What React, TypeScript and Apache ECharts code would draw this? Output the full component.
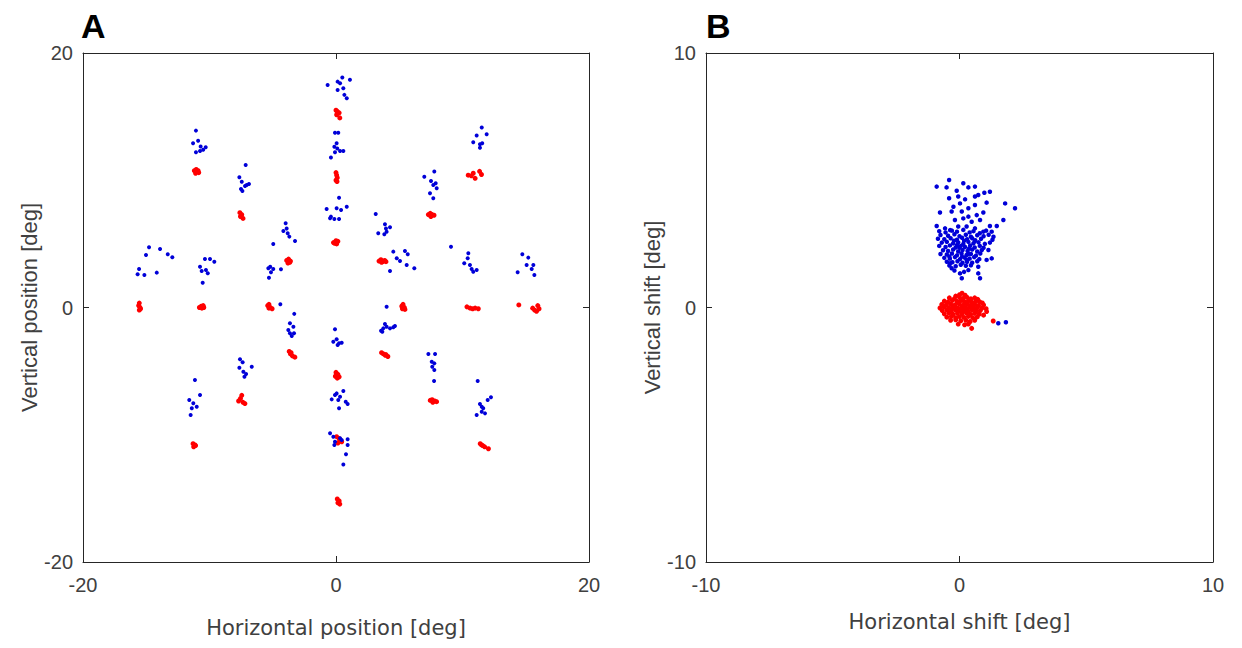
import React, { useEffect, useRef } from "react";
import * as echarts from "echarts";

// ---- Panel A: target positions (red) and landing positions (blue), in deg ----
const aRed: number[][] = [
  [-15.55, 0.35], [-15.6, 0.15], [-15.5, 0.0], [-15.55, -0.2], [-15.45, -0.1],
  [-10.8, 0.0], [-10.65, 0.1], [-10.5, 0.15], [-10.6, -0.05], [-10.45, 0.0],
  [-5.4, 0.15], [-5.3, 0.25], [-5.2, 0.0], [-5.05, -0.1], [-5.3, -0.05],
  [-3.9, 3.7], [-3.75, 3.8], [-3.6, 3.65], [-3.8, 3.5], [-3.65, 3.55],
  [0.0, 15.5], [0.1, 15.4], [0.25, 15.3], [0.05, 15.15], [0.3, 14.9],
  [0.0, 10.6], [0.05, 10.4], [0.1, 10.2], [0.0, 10.0], [0.08, 9.9],
  [-0.2, 5.1], [0.0, 5.25], [0.15, 5.2], [0.05, 5.0], [-0.1, 5.05],
  [-11.2, 10.75], [-11.05, 10.85], [-10.9, 10.75], [-11.1, 10.55], [-10.85, 10.6],
  [-7.6, 7.45], [-7.45, 7.3], [-7.55, 7.15], [-7.35, 7.0], [-7.5, 7.2],
  [3.4, 3.65], [3.55, 3.75], [3.7, 3.6], [3.85, 3.7], [3.95, 3.6], [3.6, 3.55],
  [5.2, 0.1], [5.3, 0.25], [5.4, 0.0], [5.25, -0.1], [5.45, -0.15],
  [7.3, 7.3], [7.45, 7.4], [7.6, 7.3], [7.75, 7.25], [7.5, 7.15],
  [10.45, 10.4], [10.7, 10.35], [10.85, 10.55], [11.35, 10.7], [11.5, 10.45], [11.0, 10.15],
  [10.35, 0.05], [10.6, -0.05], [10.8, -0.1], [11.0, -0.05], [11.25, -0.1],
  [14.45, 0.2], [15.55, -0.05], [15.95, 0.15], [15.85, -0.3], [15.7, -0.2], [16.05, -0.1],
  [-3.7, -3.45], [-3.6, -3.65], [-3.45, -3.8], [-3.25, -3.9], [-3.55, -3.55],
  [-7.45, -6.9], [-7.55, -7.15], [-7.7, -7.35], [-7.35, -7.45], [-7.2, -7.55],
  [-11.3, -10.7], [-11.15, -10.8], [-11.25, -10.95], [-11.1, -10.85],
  [3.6, -3.55], [3.75, -3.65], [3.9, -3.75], [4.1, -3.85], [3.95, -3.7],
  [0.0, -5.1], [0.15, -5.25], [0.25, -5.45], [-0.05, -5.4], [0.1, -5.55],
  [7.45, -7.3], [7.6, -7.25], [7.8, -7.35], [7.95, -7.4], [7.65, -7.45],
  [11.4, -10.7], [11.6, -10.85], [11.75, -10.95], [12.05, -11.1], [11.5, -10.8],
  [0.05, -10.15], [0.3, -10.4], [0.15, -10.65], [0.45, -10.55], [0.25, -10.3],
  [0.1, -15.05], [0.25, -15.2], [0.3, -15.45], [0.15, -15.35],
];

const aBlue: number[][] = [
  [-11.07, 13.9], [-11.3, 12.9], [-10.9, 13.1], [-10.7, 12.65], [-10.3, 12.6], [-10.5, 12.4], [-11.07, 12.2], [-10.75, 12.3],
  [-7.14, 11.2], [-7.64, 10.24], [-7.45, 9.89], [-6.88, 9.71], [-7.19, 9.55], [-7.51, 9.32], [-7.4, 9.16], [-7.06, 9.63],
  [-3.98, 6.62], [-4.16, 6.01], [-3.82, 5.83], [-3.69, 5.57], [-3.24, 5.23], [-4.96, 4.99], [-3.9, 6.2],
  [-5.35, 3.08], [-4.96, 3.03], [-5.14, 2.77], [-4.35, 3.0], [-5.3, 2.34], [-5.2, 3.2],
  [-4.4, 0.25], [-3.3, -0.5],
  [-10.36, 3.81], [-9.96, 3.81], [-9.62, 3.6], [-10.75, 3.21], [-10.28, 2.95], [-10.62, 2.87], [-10.14, 2.69], [-10.54, 1.95],
  [-14.78, 4.73], [-13.91, 4.6], [-13.3, 4.18], [-12.94, 3.95], [-15.02, 4.13], [-15.57, 3.03], [-15.68, 2.61], [-15.15, 2.56], [-14.17, 2.74],
  [-0.66, 17.49], [0.13, 17.75], [0.5, 18.07], [1.1, 17.89], [0.32, 17.63], [0.58, 17.23], [0.13, 17.1], [0.66, 16.71], [0.85, 16.45],
  [-0.08, 13.74], [0.18, 13.74], [0.05, 12.91], [-0.13, 12.64], [0.32, 12.3], [0.58, 12.3], [-0.08, 12.2], [-0.4, 11.78], [0.1, 12.5],
  [0.24, 8.63], [-0.74, 7.74], [0.05, 7.8], [0.4, 7.67], [0.85, 7.92], [-0.4, 7.14], [-0.13, 6.96], [0.24, 6.96], [-0.47, 7.01],
  [3.14, 7.35], [3.87, 6.54], [4.27, 6.31], [3.34, 5.83], [3.82, 5.75], [4.0, 5.96], [3.95, 6.2],
  [4.53, 4.39], [5.45, 4.44], [5.67, 4.18], [4.8, 3.87], [5.06, 3.66], [5.59, 3.34], [6.19, 3.08], [4.27, 2.87],
  [4.0, 0.06],
  [7.77, 10.68], [6.98, 10.28], [7.51, 9.94], [7.69, 9.63], [7.96, 9.37], [7.43, 8.98], [7.69, 8.58], [7.88, 9.76],
  [11.52, 14.14], [11.12, 13.51], [11.91, 13.62], [10.85, 12.99], [11.38, 12.83], [11.56, 12.91], [11.38, 12.56],
  [9.09, 4.78], [10.46, 4.26], [10.41, 3.87], [10.14, 3.47], [10.59, 3.34], [10.72, 3.03], [11.12, 2.95], [10.85, 2.81],
  [14.73, 4.18], [15.2, 3.92], [15.07, 3.34], [15.6, 3.34], [15.47, 3.03], [15.68, 2.56], [14.36, 2.77],
  [-3.64, -1.24], [-3.37, -1.51], [-3.77, -1.77], [-3.64, -2.03], [-3.5, -2.24], [-3.32, -2.03],
  [-7.59, -4.07], [-7.38, -4.31], [-7.64, -4.73], [-6.66, -4.65], [-7.32, -5.05], [-7.11, -5.23], [-7.24, -5.44],
  [-11.15, -5.7], [-10.75, -6.88], [-11.6, -7.27], [-11.28, -7.53], [-11.01, -7.8], [-11.4, -7.92], [-11.49, -8.45],
  [-0.08, -1.71], [-0.21, -2.69], [0.05, -2.5], [0.24, -2.81], [0.45, -2.77], [0.13, -2.95],
  [3.87, -1.3], [3.56, -1.82], [3.74, -1.64], [4.0, -1.51], [4.27, -1.64], [4.66, -1.45], [4.53, -1.56], [3.66, -1.9],
  [-0.08, -6.88], [0.32, -7.01], [0.58, -6.56], [-0.34, -7.22], [0.18, -7.27], [0.77, -7.41], [0.92, -7.59], [0.24, -7.92], [0.05, -6.75],
  [7.3, -3.66], [7.83, -3.66], [7.57, -4.26], [7.77, -4.39], [7.61, -4.65], [7.77, -4.91], [7.75, -5.78],
  [11.2, -5.78], [12.25, -7.06], [11.99, -7.27], [11.38, -7.59], [11.64, -7.92], [11.52, -8.19], [11.12, -8.45], [11.78, -8.32], [11.52, -7.8],
  [-0.47, -9.89], [-0.21, -10.16], [-0.08, -10.55], [-0.13, -10.81], [0.32, -10.28], [0.45, -10.42], [0.92, -10.36], [0.92, -10.81], [0.79, -11.54], [0.58, -12.33],
];

// ---- Panel B: shifts (blue) and reference shifts (red), in deg ----
const bBlue: number[][] = [
  [-0.41, 5.01], [-0.9, 4.75], [-0.51, 4.72], [-0.11, 4.59], [0.15, 4.88], [0.35, 4.72], [0.61, 4.75], [0.98, 4.51], [1.2, 4.55],
  [-0.41, 4.29], [-0.05, 4.36], [0.22, 4.25], [0.61, 4.36], [0.74, 4.42], [1.07, 4.12], [1.8, 4.09], [2.19, 3.9],
  [-0.77, 3.73], [-0.24, 3.96], [0.02, 4.09], [0.35, 3.9], [0.61, 4.03], [-0.31, 3.77], [0.09, 3.77], [0.35, 3.57],
  [0.68, 3.63], [0.94, 3.73], [1.73, 3.44], [-0.9, 3.2], [-0.18, 3.44], [0.15, 3.5], [0.48, 3.37], [0.81, 3.44],
  [1.2, 3.2], [1.47, 3.2], [-0.57, 3.11], [-0.37, 3.04], [-0.05, 3.18], [0.28, 3.18], [0.61, 3.11], [0.94, 2.98],
  [1.27, 2.98], [1.34, 2.78],
  [-0.8, 3.0], [-0.55, 2.95], [-0.3, 3.02], [-0.1, 2.98], [0.15, 3.05], [0.4, 2.95], [0.55, 3.0], [0.8, 2.92], [1.05, 3.02],
  [-0.75, 2.85], [-0.45, 2.82], [-0.2, 2.88], [0.0, 2.8], [0.25, 2.86], [0.45, 2.78], [0.7, 2.84], [0.95, 2.8], [1.15, 2.86],
  [-0.85, 2.7], [-0.6, 2.68], [-0.35, 2.72], [-0.1, 2.66], [0.1, 2.74], [0.3, 2.68], [0.5, 2.72], [0.62, 2.64], [0.85, 2.7], [1.3, 2.66],
  [-0.7, 2.55], [-0.5, 2.58], [-0.25, 2.52], [-0.05, 2.56], [0.15, 2.5], [0.35, 2.58], [0.55, 2.52], [0.75, 2.56], [1.0, 2.5], [1.2, 2.55],
  [-0.8, 2.42], [-0.55, 2.38], [-0.38, 2.44], [-0.15, 2.36], [0.05, 2.42], [0.22, 2.38], [0.42, 2.44], [0.6, 2.36], [0.8, 2.42], [0.95, 2.35],
  [-0.65, 2.25], [-0.45, 2.22], [-0.25, 2.28], [-0.05, 2.2], [0.12, 2.26], [0.32, 2.22], [0.5, 2.28], [0.7, 2.2], [0.88, 2.26], [1.14, 2.26],
  [-0.75, 2.1], [-0.5, 2.08], [-0.3, 2.12], [-0.1, 2.05], [0.08, 2.12], [0.28, 2.06], [0.45, 2.1], [0.65, 2.04], [0.82, 2.12],
  [-0.6, 1.95], [-0.38, 1.92], [-0.18, 1.98], [0.02, 1.9], [0.2, 1.96], [0.4, 1.92], [0.58, 1.98], [0.78, 1.9], [1.27, 1.93], [1.07, 1.87],
  [-0.5, 1.8], [-0.28, 1.78], [-0.08, 1.82], [0.12, 1.76], [0.3, 1.8], [0.5, 1.76], [0.7, 1.82],
  [-0.4, 1.65], [-0.15, 1.62], [0.05, 1.68], [0.25, 1.64], [0.45, 1.66], [0.74, 1.6],
  [-0.31, 1.54], [0.02, 1.34], [0.09, 1.15], [0.74, 1.34], [0.81, 1.15], [0.35, 1.47], [-0.37, 1.74], [-0.2, 1.45], [0.18, 1.4],
  [0.0, 2.35], [0.18, 2.62], [0.38, 2.32], [-0.22, 2.62], [0.28, 1.88], [0.1, 2.0], [-0.4, 2.0], [0.6, 2.6], [0.35, 2.1], [-0.1, 2.45],
  [1.53, -0.62], [1.83, -0.58],
];

const bRed: number[][] = [
  [0.0, 0.5], [0.1, 0.56], [0.22, 0.48], [-0.15, 0.45],
  [-0.4, 0.38], [-0.2, 0.35], [0.0, 0.4], [0.15, 0.36], [0.3, 0.4], [0.45, 0.34], [0.6, 0.38], [0.72, 0.32],
  [-0.6, 0.25], [-0.45, 0.22], [-0.28, 0.28], [-0.1, 0.24], [0.05, 0.27], [0.2, 0.22], [0.35, 0.26], [0.5, 0.2], [0.65, 0.25], [0.8, 0.22], [0.9, 0.18],
  [-0.7, 0.12], [-0.52, 0.1], [-0.35, 0.14], [-0.18, 0.1], [0.0, 0.13], [0.15, 0.08], [0.3, 0.14], [0.45, 0.1], [0.6, 0.12], [0.75, 0.08], [0.95, 0.1],
  [-0.77, -0.02], [-0.6, 0.02], [-0.42, -0.01], [-0.25, 0.03], [-0.08, -0.02], [0.1, 0.01], [0.25, -0.03], [0.4, 0.02], [0.55, -0.02], [0.7, 0.0], [0.88, -0.03], [1.05, -0.05],
  [-0.68, -0.12], [-0.5, -0.1], [-0.32, -0.14], [-0.15, -0.1], [0.02, -0.13], [0.18, -0.1], [0.35, -0.14], [0.5, -0.1], [0.66, -0.14], [0.82, -0.12], [1.07, -0.16],
  [-0.6, -0.25], [-0.42, -0.22], [-0.25, -0.27], [-0.08, -0.23], [0.1, -0.26], [0.28, -0.22], [0.44, -0.27], [0.6, -0.23], [0.78, -0.26], [0.95, -0.3],
  [-0.5, -0.38], [-0.32, -0.35], [-0.15, -0.4], [0.0, -0.36], [0.18, -0.39], [0.35, -0.35], [0.52, -0.4], [0.7, -0.37],
  [-0.35, -0.5], [-0.15, -0.48], [0.05, -0.52], [0.25, -0.5], [0.42, -0.55], [0.6, -0.5], [1.33, -0.53],
  [-0.05, -0.65], [0.2, -0.68], [0.48, -0.82], [0.35, -0.65],
  [0.05, -0.05], [-0.2, 0.05], [0.2, 0.15], [0.3, -0.05], [-0.05, 0.2], [0.12, -0.2], [-0.3, -0.05], [0.4, 0.3],
];

const panelLabels = ["A", "B"];
const axisNamesX = ["Horizontal position [deg]", "Horizontal shift [deg]"];
const axisNamesY = ["Vertical position [deg]", "Vertical shift [deg]"];
const axisLimits = [20, 10];

const FONT = "'Liberation Sans', Arial, Helvetica, sans-serif";
const FONT_WIDE = "'DejaVu Sans', 'Liberation Sans', Arial, sans-serif";
const AX = "#262626";
const TXT = "#404040";

export default function App() {
  const ref = useRef<HTMLDivElement>(null);
  useEffect(() => {
    if (!ref.current) return;
    const chart = echarts.init(ref.current, undefined, { renderer: "svg" });
    const grids = [
      { left: 83, top: 53, width: 506, height: 509 },
      { left: 706, top: 53, width: 507, height: 509 },
    ];
    const xAxes: any[] = [];
    const yAxes: any[] = [];
    grids.forEach((_, i) => {
      const lim = axisLimits[i];
      const common = {
        type: "value",
        gridIndex: i,
        min: -lim,
        max: lim,
        interval: lim,
        splitLine: { show: false },
        axisLine: { show: true, onZero: false, lineStyle: { color: AX, width: 1 } },
        axisTick: { show: true, inside: true, length: 6, lineStyle: { color: AX } },
      };
      xAxes.push({
        ...common,
        position: "bottom",
        name: axisNamesX[i],
        nameLocation: "middle",
        nameGap: i === 0 ? 55 : 49,
        nameTextStyle: { fontFamily: FONT_WIDE, fontSize: 21, color: TXT },
        axisLabel: { fontFamily: FONT, fontSize: 20, color: TXT, margin: 13 },
      });
      xAxes.push({ ...common, position: "top", axisLabel: { show: false } });
      yAxes.push({
        ...common,
        position: "left",
        name: axisNamesY[i],
        nameLocation: "middle",
        nameGap: i === 0 ? 42 : 41,
        nameTextStyle: { fontFamily: FONT, fontSize: 22, color: TXT },
        axisLabel: { fontFamily: FONT, fontSize: 20, color: TXT, margin: 10 },
      });
      yAxes.push({ ...common, position: "right", axisLabel: { show: false } });
    });
    const sc = (data: number[][], color: string, gi: number, size: number) => ({
      type: "scatter",
      xAxisIndex: gi * 2,
      yAxisIndex: gi * 2,
      data,
      symbol: "circle",
      symbolSize: size,
      itemStyle: { color, opacity: 1 },
      silent: true,
    });
    chart.setOption({
      animation: false,
      backgroundColor: "#ffffff",
      grid: grids,
      xAxis: xAxes,
      yAxis: yAxes,
      graphic: panelLabels.map((t, i) => ({
        type: "text",
        left: i === 0 ? 81 : 706,
        top: 9,
        style: { text: t, font: `bold 34px ${FONT}`, fill: "#000" },
      })),
      series: [
        sc(aRed, "#ff0000", 0, 5),
        sc(aBlue, "#0000d8", 0, 4),
        sc(bBlue, "#0000d8", 1, 4.5),
        sc(bRed, "#ff0000", 1, 5),
      ],
    });
    return () => chart.dispose();
  }, []);
  return (
    <div
      ref={ref}
      style={{ position: "fixed", left: 0, top: 0, width: 1242, height: 648, background: "#fff" }}
    />
  );
}
